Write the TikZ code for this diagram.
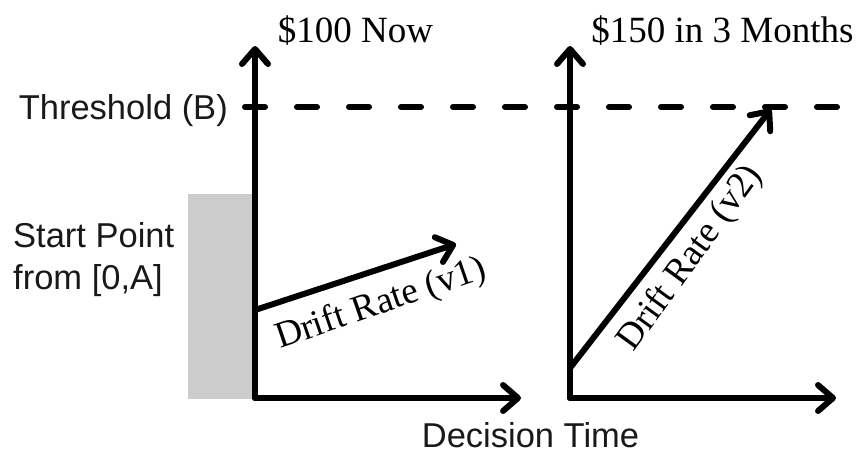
\documentclass[tikz,border=0pt]{standalone}
\usepackage{fontspec}
\setmainfont{Liberation Serif}
\setsansfont{Liberation Sans}
\usetikzlibrary{arrows.meta}
\tikzset{
  axis/.style={line width=6pt, line cap=round, line join=round,
    -{Straight Barb[length=15pt,width=26pt,line cap=round,line join=round]}},
  drift/.style={axis},
  thresh/.style={line width=6pt, line cap=round, dash pattern=on 20pt off 32pt},
  serifl/.style={font=\fontsize{37}{44}\selectfont, inner sep=0pt},
  sansl/.style={font=\sffamily\fontsize{34.5}{42}\selectfont, inner sep=0pt, text=black!90},
}
\begin{document}
\begin{tikzpicture}[x=1pt,y=-1pt]
\useasboundingbox (0,0) rectangle (856,453);
% gray start-point band
\fill[black!20] (188,194) rectangle (252,399);
% coordinates
\coordinate (O1) at (255,398);
\coordinate (T1) at (255,46);
\coordinate (X1) at (521,398);
\coordinate (O2) at (570,398);
\coordinate (T2) at (570,46);
\coordinate (X2) at (836,398);
\coordinate (S1) at (255,310);
\coordinate (E1) at (456,244);
\coordinate (S2) at (570,368);
\coordinate (E2) at (771,109);
\coordinate (TH0) at (245,107);
\coordinate (TH1) at (850,107);
% threshold
\draw[thresh] (TH0) -- (TH1);
% axes
\draw[axis] (O1) -- (T1);
\draw[axis] (O1) -- (X1);
\draw[axis] (O2) -- (T2);
\draw[axis] (O2) -- (X2);
% drift arrows
\draw[drift] (S1) -- (E1);
\draw[drift] (S2) -- (E2);
% labels
\node[serifl, anchor=base] (t1) at (355.5,42) {\$100 Now};
\node[serifl, anchor=base] (t2) at (722.5,42) {\$150 in 3 Months};
\node[sansl, anchor=base east] (th) at (228,119) {Threshold (B)};
\node[sansl, anchor=base west, align=left] (sp) at (13,289) {Start Point\\from [0,A]};
\node[sansl, anchor=base] (dt) at (530.5,447) {Decision Time};
\node[serifl, anchor=base, rotate=19] (d1) at (384,313) {Drift Rate (v1)};
\node[serifl, anchor=base, rotate=54] (d2) at (698,264) {Drift Rate (v2)};
\end{tikzpicture}
\end{document}
